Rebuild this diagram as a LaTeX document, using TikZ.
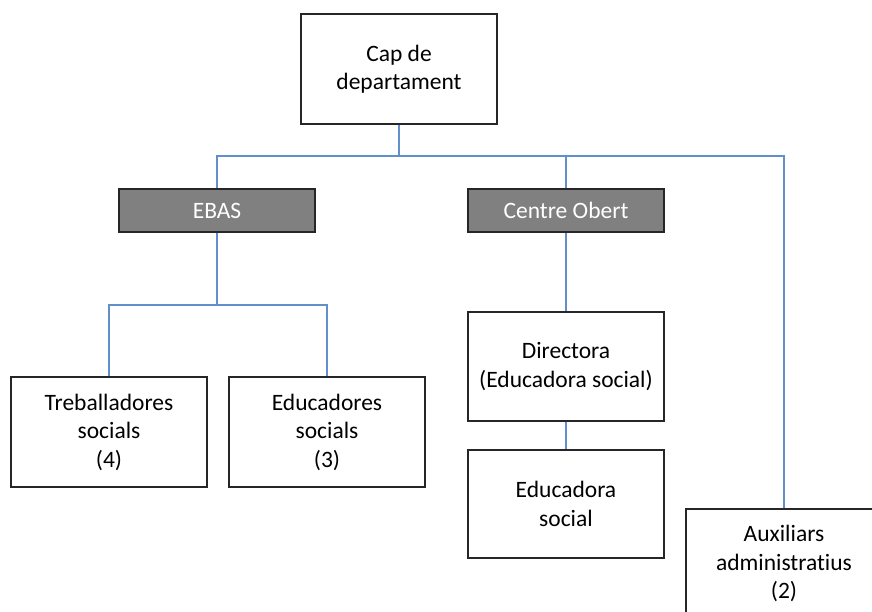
\documentclass[tikz,border=0pt]{standalone}
\usepackage{fontspec}
\setmainfont{Carlito}[Ligatures=NoCommon]
\definecolor{linkblue}{RGB}{96,143,202}
\definecolor{unitgray}{RGB}{128,128,128}
\begin{document}
\begin{tikzpicture}[x=1pt,y=-1pt,
	post/.style={draw=black!85, line width=1.3pt, fill=white, minimum width=196pt, minimum height=109pt, align=center, inner sep=0pt, font=\fontsize{23.5}{28.5}\selectfont},
	unit/.style={draw=black!85, line width=1.3pt, fill=unitgray, text=white, minimum width=196pt, minimum height=43pt, inner sep=0pt, font=\fontsize{23.5}{28.5}\selectfont},
	link/.style={draw=linkblue, line width=1.4pt}]
	\useasboundingbox (0,0) rectangle (872,612);
	\clip (0,0) rectangle (872,612);
	% boxes
	\node [post, minimum height=110pt] (cap) at (399,69) {Cap de\\departament};
	\node [unit] (ebas) at (217,210.5) {EBAS};
	\node [unit] (obert) at (566,210.5) {Centre Obert};
	\node [post, minimum height=110pt] (treb) at (109,432) {Treballadores\\socials\\(4)};
	\node [post, minimum height=110pt] (educ) at (327,432) {Educadores\\socials\\(3)};
	\node [post] (dir) at (566,366.5) {Directora\\(Educadora social)};
	\node [post, minimum height=108pt] (edsoc) at (566,504) {Educadora\\social};
	\node [post] (aux) at (784,563.5) {Auxiliars\\administratius\\(2)};
	% connectors
	\coordinate (bus) at (399,156);
	\coordinate (fork) at (217,305);
	\draw [link] (cap.south) -- (bus);
	\draw [link] (ebas.north) |- (bus);
	\draw [link] (obert.north) |- (bus);
	\draw [link] (aux.north) |- (bus);
	\draw [link] (ebas.south) -- (fork);
	\draw [link] (treb.north) |- (fork);
	\draw [link] (educ.north) |- (fork);
	\draw [link] (obert.south) -- (dir.north);
	\draw [link] (dir.south) -- (edsoc.north);
\end{tikzpicture}
\end{document}
